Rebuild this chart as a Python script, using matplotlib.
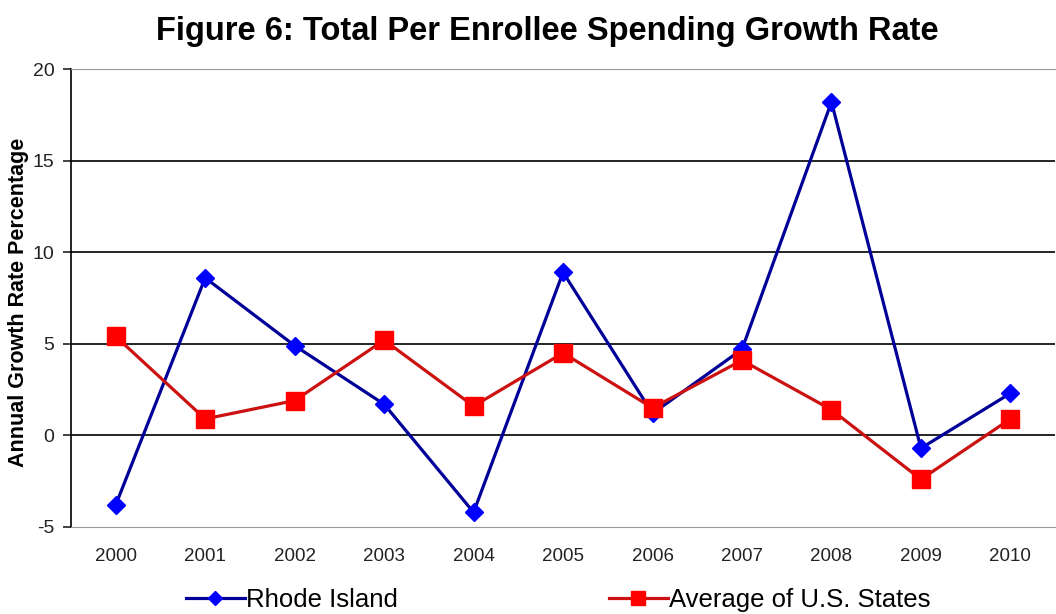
import numpy as np
import matplotlib.pyplot as plt

years = ["2000", "2001", "2002", "2003", "2004", "2005",
         "2006", "2007", "2008", "2009", "2010"]
rhode_island = [-3.8, 8.6, 4.9, 1.7, -4.2, 8.9, 1.2, 4.7, 18.2, -0.7, 2.3]
us_average = [5.4, 0.9, 1.9, 5.2, 1.6, 4.5, 1.5, 4.1, 1.4, -2.4, 0.9]
y_ticks = [-5, 0, 5, 10, 15, 20]

plt.rcParams["font.family"] = ["Liberation Sans", "DejaVu Sans"]
plt.rcParams["axes.unicode_minus"] = False

fig = plt.figure(figsize=(10.56, 6.14), dpi=100)
ax = fig.add_axes([0.0672, 0.1417, 0.932, 0.7459])

x = np.arange(len(years))
ax.plot(x, rhode_island, color="#000099", lw=2.3, marker="D", ms=9.5,
        mfc="#0000ff", mec="#0000ff", label="Rhode Island", zorder=3)
ax.plot(x, us_average, color="#cc1111", lw=2.3, marker="s", ms=12.5,
        mfc="#ff0000", mec="#ff0000", label="Average of U.S. States", zorder=3)

ax.set_xlim(-0.5, len(years) - 0.5)
ax.set_ylim(-5, 20)
ax.set_yticks(y_ticks)
ax.set_xticks(x)
ax.set_xticklabels(years)
ax.tick_params(axis="x", length=0, pad=15, labelsize=13.5, colors="#222222")
ax.tick_params(axis="y", length=6, width=1.2, direction="out", pad=6,
               labelsize=14, colors="#222222")

# black grid lines inside, grey frame top/bottom
for v in y_ticks[1:-1]:
    ax.axhline(v, color="black", lw=1.2, zorder=1)
ax.spines["left"].set_color("black")
ax.spines["left"].set_linewidth(1.2)
ax.spines["top"].set_color("#999999")
ax.spines["bottom"].set_color("#999999")
ax.spines["right"].set_visible(False)

ax.set_ylabel("Annual Growth Rate Percentage", fontsize=15.5,
              fontweight="bold")
ax.yaxis.set_label_coords(-0.043, 0.49)

fig.text(0.518, 0.948, "Figure 6: Total Per Enrollee Spending Growth Rate",
         fontsize=23.5, fontweight="bold", ha="center", va="center")

fig.legend(loc="center left", bbox_to_anchor=(0.176, 0.022), ncol=2,
           frameon=False, fontsize=18.5, handlelength=2.3,
           handletextpad=0.05, columnspacing=8.2, markerscale=0.8,
           borderpad=0, borderaxespad=0)

fig.savefig("out.png", dpi=100)
